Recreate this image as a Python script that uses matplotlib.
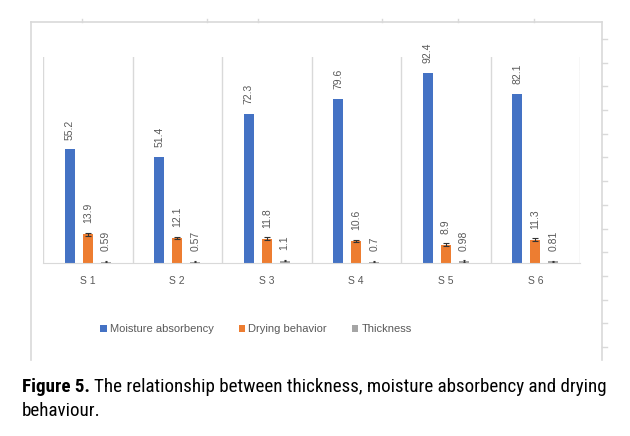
import matplotlib
matplotlib.use("Agg")
import matplotlib.pyplot as plt
from matplotlib.patches import Patch
from matplotlib.lines import Line2D
from matplotlib import font_manager
import numpy as np

categories = ["S1", "S2", "S3", "S4", "S5", "S6"]
moisture = [55.2, 51.4, 72.3, 79.6, 92.4, 82.1]
drying = [13.9, 12.1, 11.8, 10.6, 8.9, 11.3]
thickness = [0.59, 0.57, 1.1, 0.7, 0.98, 0.81]
drying_err = [0.6, 0.6, 0.6, 0.5, 0.6, 0.6]
thick_err = [0.3, 0.3, 0.3, 0.3, 0.3, 0.3]
moisture_lbl = ["55.2", "51.4", "72.3", "79.6", "92.4", "82.1"]
drying_lbl = ["13.9", "12.1", "11.8", "10.6", "8.9", "11.3"]
thick_lbl = ["0.59", "0.57", "1.1", "0.7", "0.98", "0.81"]
series_names = ["Moisture absorbency", "Drying behavior", "Thickness"]

W, H = 630, 436
fig = plt.figure(figsize=(W / 100, H / 100), dpi=100)
grid_c = "#d9d9d9"
txt_c = "#595959"
colors = ["#4472C4", "#ED7D31", "#A5A5A5"]

def fx(px):
    return px / W

def fy(py):
    return 1 - py / H

# outer chart frame artifacts
fig.add_artist(Line2D([fx(31), fx(31)], [fy(22), fy(360)], color=grid_c, lw=1.2, transform=fig.transFigure))
fig.add_artist(Line2D([fx(31), fx(602)], [fy(22), fy(22)], color=grid_c, lw=1.2, transform=fig.transFigure))
fig.add_artist(Line2D([fx(602), fx(602)], [fy(22), fy(360)], color=grid_c, lw=1.2, transform=fig.transFigure))
for tx in [82, 207, 258, 382, 458, 534]:
    fig.add_artist(Line2D([fx(tx), fx(tx)], [fy(19), fy(22)], color=grid_c, lw=1, transform=fig.transFigure))
for k in range(14):
    ty = 39 + 23.7 * k
    fig.add_artist(Line2D([fx(602), fx(607)], [fy(ty), fy(ty)], color=grid_c, lw=1, transform=fig.transFigure))

ax = fig.add_axes([fx(43), fy(263), fx(580) - fx(43), fy(57) - fy(263)])
x = np.arange(len(categories))
bw = 0.11
off = 0.2
ax.bar(x - off, moisture, bw, color=colors[0], zorder=2)
ax.bar(x, drying, bw, color=colors[1], zorder=2,
       yerr=drying_err, error_kw=dict(ecolor="#333333", elinewidth=0.8, capsize=2, capthick=0.8))
ax.bar(x + off, thickness, bw, color=colors[2], zorder=2,
       yerr=thick_err, error_kw=dict(ecolor="#333333", elinewidth=0.8, capsize=1, capthick=0.8))

for xs, vals, errs, lbls in [
    (x - off, moisture, [0] * 6, moisture_lbl),
    (x, drying, drying_err, drying_lbl),
    (x + off, thickness, thick_err, thick_lbl),
]:
    for xi, v, e, l in zip(xs, vals, errs, lbls):
        ax.annotate(l, (xi, v + e), xytext=(0, 7), textcoords="offset points",
                    rotation=90, ha="center", va="bottom", fontsize=7.5, color=txt_c,
                    family="Liberation Sans")

ax.set_xlim(-0.5, len(categories) - 0.5)
ax.set_ylim(0, 100)
for b in np.arange(-0.5, len(categories), 1.0):
    ax.axvline(b, color=grid_c, lw=1, zorder=1)
for s in ["top", "left", "right"]:
    ax.spines[s].set_visible(False)
ax.spines["bottom"].set_color(grid_c)
ax.set_yticks([])
ax.set_xticks(x)
ax.set_xticklabels([" ".join(c) for c in categories], fontsize=7.5, color=txt_c, family="Liberation Sans")
ax.tick_params(axis="x", length=0, pad=9)

handles = [Patch(facecolor=c, edgecolor="none") for c in colors]
fig.legend(handles, series_names, loc="center", bbox_to_anchor=(fx(256), fy(329)), ncol=3,
           frameon=False, handlelength=0.6, handleheight=0.6, handletextpad=0.3,
           columnspacing=2.2, labelcolor=txt_c, prop=dict(family="Liberation Sans", size=8))

# caption: pick a narrow font if available, fit line 1 to span 22..606 px
cap_family = "Liberation Sans"
for cand in ["Roboto Condensed", "Liberation Sans Narrow", "Open Sans Condensed", "Noto Sans Condensed"]:
    try:
        font_manager.findfont(font_manager.FontProperties(family=cand), fallback_to_default=False)
        cap_family = cand
        break
    except Exception:
        pass

line1_b = "Figure 5."
line1_r = "The relationship between thickness, moisture absorbency and drying"
line2 = "behaviour."
size = 12
t1 = fig.text(fx(22), fy(392), line1_b, fontsize=size, fontweight="bold", family=cap_family, color="black")
t2 = fig.text(0, fy(392), line1_r, fontsize=size, family=cap_family, color="black")
t3 = fig.text(fx(22), fy(416), line2, fontsize=size, family=cap_family, color="black")
r = fig.canvas.get_renderer()
for _ in range(3):
    fig.canvas.draw()
    w1 = t1.get_window_extent(r).width
    w2 = t2.get_window_extent(r).width
    gap = size * 0.3
    total = w1 + gap + w2
    size = size * (584 / total)
    for t in (t1, t2, t3):
        t.set_fontsize(size)
fig.canvas.draw()
bb = t1.get_window_extent(r)
t2.set_x((bb.x1 + size * 0.3) / W)

fig.savefig("out.png", dpi=100)
